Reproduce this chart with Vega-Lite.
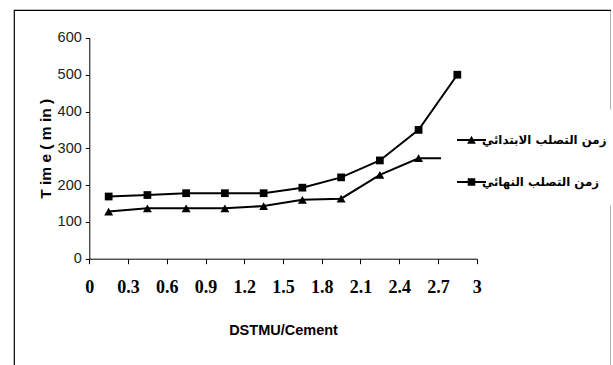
{
  "$schema": "https://vega.github.io/schema/vega-lite/v6.json",
  "autosize": "none",
  "width": 597,
  "height": 370,
  "padding": {"left": 14, "top": 10, "right": 0, "bottom": 0},
  "background": "white",
  "config": {
    "view": {"stroke": "black", "strokeWidth": 1.2},
    "axis": {"grid": false}
  },
  "data": {
    "values": [
      {"x": 0.15, "time": 128, "series": "زمن التصلب الابتدائي"},
      {"x": 0.45, "time": 137, "series": "زمن التصلب الابتدائي"},
      {"x": 0.75, "time": 137, "series": "زمن التصلب الابتدائي"},
      {"x": 1.05, "time": 137, "series": "زمن التصلب الابتدائي"},
      {"x": 1.35, "time": 143, "series": "زمن التصلب الابتدائي"},
      {"x": 1.65, "time": 160, "series": "زمن التصلب الابتدائي"},
      {"x": 1.95, "time": 163, "series": "زمن التصلب الابتدائي"},
      {"x": 2.25, "time": 228, "series": "زمن التصلب الابتدائي"},
      {"x": 2.55, "time": 273, "series": "زمن التصلب الابتدائي"},
      {"x": 2.85, "time": 273, "series": "زمن التصلب الابتدائي"},
      {"x": 0.15, "time": 169, "series": "زمن التصلب النهائي"},
      {"x": 0.45, "time": 173, "series": "زمن التصلب النهائي"},
      {"x": 0.75, "time": 178, "series": "زمن التصلب النهائي"},
      {"x": 1.05, "time": 178, "series": "زمن التصلب النهائي"},
      {"x": 1.35, "time": 178, "series": "زمن التصلب النهائي"},
      {"x": 1.65, "time": 193, "series": "زمن التصلب النهائي"},
      {"x": 1.95, "time": 221, "series": "زمن التصلب النهائي"},
      {"x": 2.25, "time": 267, "series": "زمن التصلب النهائي"},
      {"x": 2.55, "time": 350, "series": "زمن التصلب النهائي"},
      {"x": 2.85, "time": 500, "series": "زمن التصلب النهائي"}
    ]
  },
  "encoding": {
    "x": {
      "field": "x", "type": "quantitative",
      "scale": {"domain": [0, 3], "range": [75.3, 462.7], "nice": false, "zero": false},
      "axis": {
        "orient": "bottom", "offset": -121.3,
        "values": [0, 0.3, 0.6, 0.9, 1.2, 1.5, 1.8, 2.1, 2.4, 2.7, 3],
        "format": "~g",
        "labelFont": "Liberation Serif", "labelFontSize": 18, "labelFontWeight": "bold",
        "labelColor": "black", "labelPadding": 15, "labelFlush": false, "labelOverlap": false,
        "tickSize": 5, "tickColor": "black", "domainColor": "black",
        "title": "DSTMU/Cement", "titleFont": "Liberation Sans", "titleFontSize": 14.5,
        "titleFontWeight": "bold", "titleColor": "black", "titleBaseline": "middle", "titleY": 72,
        "encode": {"labels": {"update": {"dx": {"signal": "0.8 + (datum.value - 1.5) * 3.4"}}}}
      }
    },
    "y": {
      "field": "time", "type": "quantitative",
      "scale": {"domain": [0, 600], "range": [248.7, 27.9], "nice": false},
      "axis": {
        "orient": "left", "offset": -75.3,
        "values": [0, 100, 200, 300, 400, 500, 600],
        "format": "d",
        "labelFont": "Liberation Sans", "labelFontSize": 14.5, "labelColor": "#222",
        "labelPadding": 4, "tickSize": 4, "tickColor": "black", "domainColor": "black",
        "title": "T im e ( m in )", "titleFont": "Liberation Sans", "titleFontSize": 15.5,
        "titleFontWeight": "bold", "titleColor": "black", "titleAngle": -90,
        "titleBaseline": "middle", "titleX": -44
      }
    }
  },
  "layer": [
    {
      "mark": {"type": "line", "color": "black", "strokeWidth": 2},
      "encoding": {"detail": {"field": "series"}}
    },
    {
      "mark": {"type": "point", "filled": true, "color": "black", "opacity": 0},
      "encoding": {
        "shape": {
          "field": "series", "type": "nominal",
          "scale": {
            "domain": ["زمن التصلب الابتدائي", "زمن التصلب النهائي"],
            "range": [
              "M-1,-0.07H1V0.07H-1ZM-0.3,0.26L0,-0.3L0.3,0.26Z",
              "M-1,-0.07H1V0.07H-1ZM-0.26,-0.26H0.26V0.26H-0.26Z"
            ]
          },
          "legend": {
            "title": null, "orient": "none", "legendX": 427, "legendY": 99.5,
            "padding": 16, "fillColor": "white", "symbolSize": 841, "rowPadding": 20,
            "symbolOpacity": 1, "symbolFillColor": "black", "symbolStrokeColor": "black",
            "symbolStrokeWidth": 0,
            "labelFont": "DejaVu Sans", "labelFontSize": 11.8, "labelFontWeight": "bold",
            "labelColor": "black", "labelOffset": -4, "labelLimit": 300, "zindex": 1
          }
        }
      }
    },
    {
      "mark": {"type": "point", "filled": true, "color": "black", "opacity": 1},
      "encoding": {
        "shape": {
          "condition": {"test": "datum.series === 'زمن التصلب الابتدائي'", "value": "triangle-up"},
          "value": "square"
        },
        "size": {
          "condition": {"test": "datum.series === 'زمن التصلب الابتدائي'", "value": 80},
          "value": 60
        }
      }
    }
  ]
}
